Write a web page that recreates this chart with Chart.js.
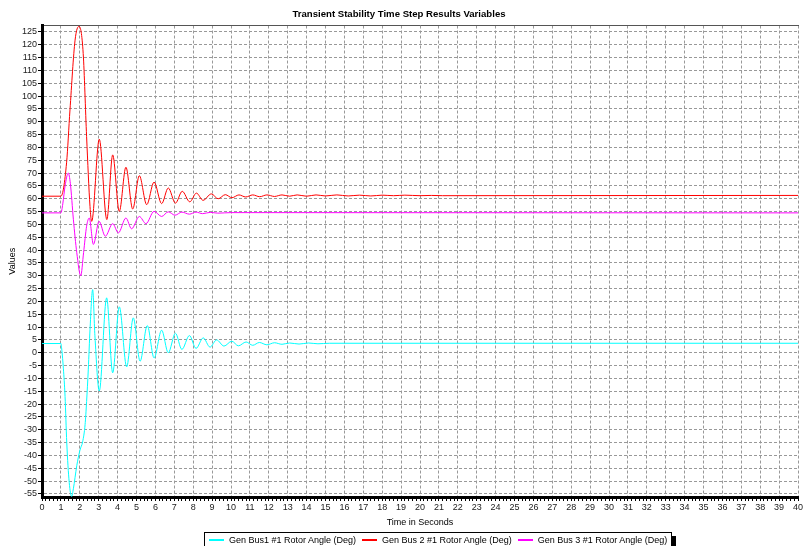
<!DOCTYPE html>
<html>
<head>
<meta charset="utf-8">
<script src="https://cdn.jsdelivr.net/npm/chart.js@4.4.1/dist/chart.umd.min.js"></script>
<style>
  html, body { margin: 0; padding: 0; background: #fff; overflow: hidden; }
  #wrap { position: relative; width: 810px; height: 546px; overflow: hidden; }
  #legend {
    position: absolute; left: 204px; top: 532px; width: 468px; height: 20px;
    border: 1px solid #000; box-shadow: 4px 4px 0 #000; background: #fff;
    display: flex; align-items: flex-start; padding-top: 1px; box-sizing: border-box;
    font: 9px "Liberation Sans", Arial, sans-serif; color: #000; white-space: nowrap;
  }
  #legend .item { display: flex; flex-shrink: 0; align-items: center; height: 11px; margin-right: 2px; }
  #legend .swatch { display: block; width: 15px; height: 2px; margin-left: 4px; margin-right: 5px; flex-shrink: 0; }
</style>
</head>
<body>
<div id="wrap">
  <canvas id="myChart" width="810" height="546"></canvas>
  <div id="legend"></div>
</div>
<script>
// series (time in s, angle in deg)
const seriesNames = ['Gen Bus1 #1 Rotor Angle (Deg)', 'Gen Bus 2 #1 Rotor Angle (Deg)', 'Gen Bus 3 #1 Rotor Angle (Deg)'];

const bus1Times = [0, 1.0, 1.05, 1.13, 1.22, 1.31, 1.44, 1.57, 1.66, 1.84, 2.01, 2.15, 2.28, 2.36, 2.45, 2.54, 2.68, 2.8, 3.03,
  3.42, 3.74, 4.09, 4.48, 4.83, 5.19, 5.57, 5.93, 6.33, 6.68, 7.06, 7.4, 7.8, 8.15, 8.53, 8.89, 9.24, 9.63, 10.04, 10.39,
  10.8, 11.15, 11.5, 11.9, 12.3, 12.7, 13.1, 13.6, 14.1, 14.6, 15.2, 40];
const bus1Angles = [3.6, 3.6, 1, -6, -17, -35, -50.5, -56, -53, -44, -37.9, -34.7, -28, -19, -6.4, 9, 24.6, 6.6, -14.9,
  21.4, -7.8, 17.9, -5.5, 13.6, -3.3, 10.6, -2, 8.8, 0, 7.6, 1.3, 6.7, 1.7, 5.8, 2.2, 5.0, 2.6, 4.5, 2.7,
  4.2, 2.9, 4.0, 3.1, 3.9, 3.3, 3.8, 3.4, 3.8, 3.5, 3.7, 3.7];

const bus2Times = [0, 1.0, 1.3, 1.48, 1.75, 1.96, 2.18, 2.36, 2.54, 2.63, 3.03, 3.43, 3.74, 4.09, 4.44, 4.8, 5.15, 5.54,
  5.93, 6.33, 6.68, 7.06, 7.42, 7.82, 8.17, 8.52, 8.96, 9.32, 9.7, 10.05, 10.42, 10.78, 11.15, 11.52, 11.9, 12.3, 12.7,
  13.1, 13.5, 14.0, 14.5, 15.0, 15.6, 16.2, 16.8, 17.4, 18.0, 18.6, 19.2, 20.0, 20.6, 21.2, 40];
const bus2Angles = [61, 61, 74, 94.6, 121.8, 127.2, 116.6, 84.2, 57, 51.2, 83.2, 51.9, 77.1, 55.1, 72.3, 56, 69, 57.7,
  66.5, 58.1, 64.2, 58.3, 62.9, 58.8, 62.2, 59.4, 61.9, 60.0, 61.6, 60.4, 61.5, 60.7, 61.5, 60.8, 61.5, 60.9, 61.5,
  61.0, 61.5, 61.0, 61.5, 61.1, 61.5, 61.1, 61.4, 61.1, 61.4, 61.2, 61.4, 61.2, 61.3, 61.2, 61.3];

const bus3Times = [0, 1.0, 1.1, 1.22, 1.39, 1.5, 1.66, 1.84, 2.05, 2.2, 2.36, 2.5, 2.72, 3.02, 3.35, 3.74, 4.04, 4.44,
  4.74, 5.15, 5.5, 5.93, 6.33, 6.68, 7.04, 7.4, 7.8, 8.15, 8.5, 8.9, 9.3, 10, 40];
const bus3Angles = [54.5, 54.5, 58, 65, 70, 66, 52, 39, 30, 39, 49.3, 52.5, 42.2, 51.2, 45.4, 50.3, 46.7, 52.5,
  48.3, 53.1, 50.3, 55.1, 53.1, 54.9, 53.6, 54.8, 54.0, 54.8, 54.2, 54.7, 54.4, 54.6, 54.5];

const seriesColors = ['#00FFFF', '#FF0000', '#FF00FF'];

const toPoints = (times, vals) => times.map((t, i) => ({ x: t, y: vals[i] }));
const isWhole = v => Math.abs(v - Math.round(v)) < 1e-6;
const FONT = '"Liberation Sans", Arial, sans-serif';
const GRID = '#999';

const ctx = document.getElementById('myChart').getContext('2d');
const myChart = new Chart(ctx, {
    type: 'line',
    data: {
        datasets: [
            { label: seriesNames[0], data: toPoints(bus1Times, bus1Angles), borderColor: seriesColors[0] },
            { label: seriesNames[1], data: toPoints(bus2Times, bus2Angles), borderColor: seriesColors[1] },
            { label: seriesNames[2], data: toPoints(bus3Times, bus3Angles), borderColor: seriesColors[2] }
        ]
    },
    options: {
        responsive: false,
        animation: false,
        devicePixelRatio: 1,
        layout: { padding: { top: 0, right: 12, bottom: 18.4, left: 0 } },
        elements: {
            point: { radius: 0 },
            line: { borderWidth: 1, cubicInterpolationMode: 'monotone', fill: false }
        },
        plugins: {
            legend: { display: false },
            tooltip: { enabled: false },
            title: {
                display: true,
                text: 'Transient Stability Time Step Results Variables',
                color: '#000',
                font: { family: FONT, size: 9.6, weight: 'bold' },
                padding: { top: 9, bottom: 5 }
            }
        },
        scales: {
            x: {
                type: 'linear',
                position: 'bottom',
                min: 0,
                max: 40,
                ticks: {
                    stepSize: 0.2,
                    autoSkip: false,
                    maxRotation: 0,
                    padding: 1,
                    color: '#222',
                    font: { family: FONT, size: 9 },
                    callback: v => isWhole(v) ? String(Math.round(v)) : ''
                },
                grid: {
                    color: c => (c.tick && isWhole(c.tick.value)) ? GRID : 'rgba(0,0,0,0)',
                    tickColor: '#000',
                    tickLength: 4,
                    lineWidth: 1
                },
                border: { display: true, color: '#000', width: 3, dash: [3, 2] },
                title: {
                    display: true,
                    text: 'Time in Seconds',
                    color: '#000',
                    font: { family: FONT, size: 9 },
                    padding: { top: 3, bottom: 0 }
                }
            },
            top: {
                type: 'linear',
                position: 'top',
                display: true,
                min: 0,
                max: 40,
                ticks: { display: false },
                grid: { display: false, drawTicks: false },
                border: { display: true, color: '#555', width: 1 }
            },
            y: {
                min: -56.2,
                max: 127.5,
                afterFit: scale => { scale.width = 42; },
                ticks: {
                    stepSize: 5,
                    autoSkip: false,
                    includeBounds: false,
                    padding: 1,
                    color: '#222',
                    font: { family: FONT, size: 9 }
                },
                grid: { color: GRID, tickColor: '#000', tickLength: 4, lineWidth: 1 },
                border: { display: true, color: '#000', width: 3, dash: [3, 2] },
                title: {
                    display: true,
                    text: 'Values',
                    color: '#000',
                    font: { family: FONT, size: 9 },
                    padding: { top: 7.5, bottom: 0 }
                }
            }
        }
    }
});

// legend box like the original, built from the chart's datasets
const legendEl = document.getElementById('legend');
myChart.data.datasets.forEach(ds => {
    const item = document.createElement('div');
    item.className = 'item';
    const sw = document.createElement('span');
    sw.className = 'swatch';
    sw.style.backgroundColor = ds.borderColor;
    const txt = document.createElement('span');
    txt.textContent = ds.label;
    item.appendChild(sw);
    item.appendChild(txt);
    legendEl.appendChild(item);
});
</script>
</body>
</html>
